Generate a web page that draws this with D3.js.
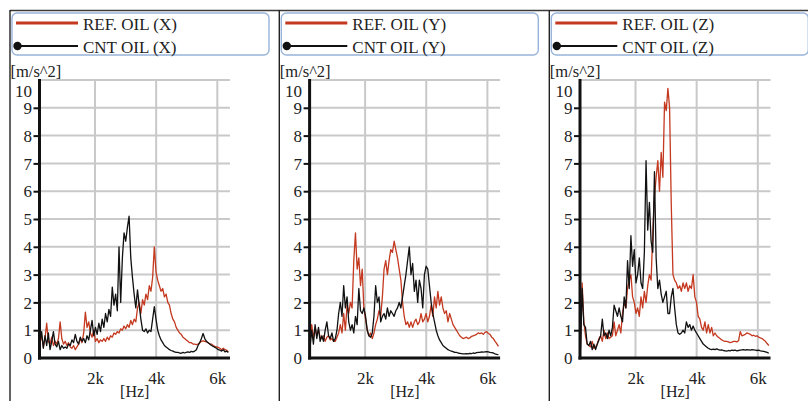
<!DOCTYPE html>
<html>
<head>
<meta charset="utf-8">
<script src="https://cdn.jsdelivr.net/npm/d3@7"></script>
<style>
  html, body { margin: 0; padding: 0; background: #fff; }
  svg { display: block; }
  text { font-family: "Liberation Serif", "Times New Roman", serif; fill: #222; }
</style>
</head>
<body>
<svg id="chart" width="808" height="401"></svg>
<script>
// Vibration spectra, acceleration vs frequency, three axes.
// Spectral bins: 55 Hz apart, starting at 200 Hz.
const binStartHz = 200, binStepHz = 55, binEndHz = 6400;
const freqHz = d3.range(binStartHz, binEndHz, binStepHz);

const axisNames = ["X", "Y", "Z"];
const yTicks = [0, 1, 2, 3, 4, 5, 6, 7, 8, 9, 10];
const xTicksHz = [2000, 4000, 6000];
const xTickLabels = ["2k", "4k", "6k"];
const yUnit = "[m/s^2]";
const xUnit = "[Hz]";

// Reference oil, X axis [m/s^2]
const refX = [
  0.55,0.8,0.4,0.7,1.25,0.6,0.5,0.75,0.45,0.6,
  0.5,0.7,1.3,0.7,0.5,0.6,0.45,0.55,0.4,0.35,
  0.45,0.3,0.4,0.5,0.7,0.55,0.9,1.65,1.1,1.3,
  0.9,0.75,1.0,0.6,0.7,0.55,0.65,0.6,0.7,0.6,
  0.75,0.65,0.8,0.75,0.9,0.85,0.95,0.9,1.05,1.0,
  1.15,1.05,1.2,1.1,1.35,1.2,1.4,1.3,1.8,2.0,
  1.6,2.1,1.9,2.3,2.1,2.6,2.4,2.9,4.0,3.1,
  2.8,2.6,2.4,2.5,2.2,2.3,2.0,1.9,1.6,1.4,
  1.3,1.1,1.0,0.9,0.85,0.75,0.7,0.65,0.6,0.55,
  0.55,0.5,0.5,0.48,0.5,0.55,0.6,0.62,0.6,0.58,
  0.55,0.5,0.5,0.45,0.42,0.4,0.38,0.35,0.3,0.35,
  0.3,0.28,0.22
];
// CNT oil, X axis
const cntX = [
  0.6,0.95,0.35,0.8,0.45,0.9,0.3,0.6,0.95,0.5,
  0.4,0.6,0.3,0.45,0.35,0.4,0.35,0.5,0.45,0.65,
  0.55,0.85,0.6,0.5,0.75,0.6,0.7,0.55,0.8,0.65,
  1.0,1.35,0.8,1.1,0.85,1.25,0.95,1.4,1.1,1.6,
  1.3,1.75,1.5,2.55,1.9,2.3,1.7,4.0,2.0,3.6,
  4.5,4.2,4.7,5.1,3.6,2.9,2.3,1.8,2.45,1.9,
  1.4,1.0,0.95,1.05,0.9,1.0,0.95,1.4,1.85,1.4,
  1.0,0.8,0.65,0.55,0.45,0.4,0.35,0.3,0.27,0.25,
  0.22,0.2,0.2,0.18,0.17,0.2,0.18,0.2,0.22,0.2,
  0.24,0.22,0.25,0.3,0.45,0.55,0.7,0.88,0.7,0.6,
  0.55,0.5,0.45,0.42,0.38,0.35,0.3,0.28,0.25,0.3,
  0.22,0.25,0.2
];
// Reference oil, Y axis
const refY = [
  0.6,1.2,0.7,1.1,0.8,1.0,0.75,0.7,0.8,0.6,
  0.75,0.8,0.65,0.7,0.6,0.6,0.75,0.9,1.2,0.9,
  1.6,1.0,1.9,1.6,2.0,1.8,3.5,4.5,3.2,3.6,
  2.6,3.2,1.8,1.4,1.0,0.8,0.9,0.7,0.9,1.2,
  1.4,1.7,1.5,2.2,3.2,3.5,3.0,3.5,3.9,3.8,
  4.2,3.9,3.6,3.2,2.8,2.0,1.5,1.2,1.3,1.1,
  1.3,1.1,1.3,1.4,1.2,1.3,1.6,1.3,1.4,1.6,
  1.3,1.5,1.9,1.5,2.2,1.8,2.4,1.9,2.2,1.8,
  1.6,1.7,1.3,1.6,1.4,1.2,1.1,1.0,0.9,0.8,
  0.75,0.7,0.72,0.75,0.7,0.72,0.78,0.8,0.82,0.85,
  0.9,0.88,0.9,0.85,0.92,0.95,0.88,0.85,0.75,0.7,
  0.6,0.52,0.42
];
// CNT oil, Y axis
const cntY = [
  0.4,1.0,0.5,1.2,0.7,1.1,0.6,0.8,0.6,1.0,
  1.3,0.8,0.7,0.9,0.6,0.7,1.0,1.6,2.0,1.5,
  2.6,1.8,2.2,1.3,1.0,1.2,0.9,1.5,1.2,2.5,
  1.7,1.6,1.8,1.5,1.0,0.8,0.75,0.9,1.5,2.6,
  2.0,2.2,1.3,1.5,1.6,1.4,1.8,1.5,1.7,1.6,
  1.5,1.7,1.8,2.0,1.8,2.2,2.6,3.0,3.5,4.0,
  3.0,3.4,2.4,2.8,2.0,2.8,2.5,1.8,3.0,3.3,
  3.2,2.6,2.0,1.6,1.3,1.0,0.8,0.65,0.55,0.45,
  0.4,0.35,0.3,0.27,0.25,0.23,0.2,0.2,0.18,0.17,
  0.16,0.15,0.15,0.16,0.15,0.17,0.16,0.18,0.17,0.19,
  0.2,0.2,0.22,0.21,0.22,0.23,0.22,0.2,0.19,0.18,
  0.15,0.13,0.12
];
// Reference oil, Z axis
const refZ = [
  0.4,2.7,1.3,0.8,0.5,0.45,0.4,0.6,0.35,0.4,
  0.5,0.7,0.8,0.6,1.0,0.7,0.9,0.7,0.75,0.8,
  1.3,0.8,1.0,1.2,0.9,1.6,2.0,1.8,2.5,2.8,
  3.0,2.2,2.0,1.6,1.8,1.5,2.2,1.8,2.4,2.0,
  2.6,3.0,2.8,4.5,5.8,6.5,7.1,6.0,7.4,6.5,
  9.2,8.9,9.7,9.0,5.5,3.0,2.8,2.7,2.5,2.6,
  2.4,2.7,2.5,2.7,2.4,2.6,2.5,3.0,2.2,2.0,
  1.5,1.4,1.1,1.0,1.3,0.9,1.2,0.9,1.1,0.8,
  0.9,0.8,0.75,0.7,0.65,0.62,0.6,0.6,0.58,0.55,
  0.57,0.6,0.6,0.58,0.62,0.95,0.8,0.82,0.85,0.9,
  0.88,0.85,0.8,0.82,0.78,0.8,0.75,0.72,0.7,0.65,
  0.6,0.52,0.45
];
// CNT oil, Z axis
const cntZ = [
  0.3,2.5,1.2,1.1,0.5,0.45,0.6,0.3,0.5,0.3,
  0.5,0.65,0.8,1.4,0.8,0.9,0.7,1.0,0.8,1.1,
  1.9,1.7,1.5,1.8,1.5,1.3,2.2,1.8,3.5,2.5,
  4.4,3.3,3.9,2.7,3.0,3.6,2.7,2.5,3.8,7.1,
  4.6,5.6,4.2,3.8,6.7,3.6,2.5,2.8,2.3,2.0,
  2.2,2.4,1.6,1.6,2.2,2.5,1.8,1.2,0.9,0.85,
  0.9,1.0,0.9,1.3,1.1,1.2,1.0,1.15,1.0,0.9,
  0.8,0.7,0.6,0.5,0.45,0.4,0.35,0.32,0.3,0.32,
  0.3,0.33,0.3,0.28,0.29,0.27,0.26,0.25,0.27,0.26,
  0.28,0.27,0.28,0.26,0.27,0.28,0.29,0.3,0.28,0.3,
  0.29,0.28,0.3,0.29,0.28,0.27,0.28,0.26,0.25,0.24,
  0.22,0.2,0.17
];

const refSeries = [refX, refY, refZ];
const cntSeries = [cntX, cntY, cntZ];

const REF_COLOR = "#c4391f";
const CNT_COLOR = "#111111";
const GRID_COLOR = "#c9c9c9";
const LEGEND_STROKE = "#98b4da";
const SERIF = "'Liberation Serif', 'Times New Roman', serif";

const svg = d3.select("#chart");

// Layout of the three side-by-side panels
const panelBorderX = [10, 279.3, 549.3];
const plotLeft = [39.5, 309.6, 580.0];
const plotWidth = 190.5;
const plotTop = 80, plotBottom = 358;

// Outer frame
svg.append("line")
  .attr("x1", 10).attr("x2", 808).attr("y1", 10.5).attr("y2", 10.5)
  .attr("stroke", "#3a3a3a").attr("stroke-width", 1.6);
panelBorderX.forEach(x => {
  svg.append("line")
    .attr("x1", x).attr("x2", x).attr("y1", 10).attr("y2", 401)
    .attr("stroke", "#222").attr("stroke-width", 1.4);
});

axisNames.forEach((name, i) => {
  const g = svg.append("g");
  const left = plotLeft[i], right = left + plotWidth;

  const x = d3.scaleLinear().domain([185, 6415]).range([left, right]);
  const y = d3.scaleLinear().domain([0, 10]).range([plotBottom, plotTop]);

  // Legend box
  const boxLeft = panelBorderX[i] + 2;
  const lg = g.append("g");
  lg.append("rect")
    .attr("x", boxLeft).attr("y", 13).attr("width", 257).attr("height", 42)
    .attr("rx", 5).attr("ry", 5)
    .attr("fill", "#fff").attr("stroke", LEGEND_STROKE).attr("stroke-width", 1.4);
  lg.append("line")
    .attr("x1", boxLeft + 4).attr("x2", boxLeft + 66).attr("y1", 23).attr("y2", 23)
    .attr("stroke", REF_COLOR).attr("stroke-width", 3);
  lg.append("line")
    .attr("x1", boxLeft + 5).attr("x2", boxLeft + 66).attr("y1", 46).attr("y2", 46)
    .attr("stroke", CNT_COLOR).attr("stroke-width", 2);
  lg.append("circle")
    .attr("cx", boxLeft + 5.5).attr("cy", 46).attr("r", 4.2)
    .attr("fill", CNT_COLOR);
  lg.append("text")
    .attr("x", boxLeft + 71).attr("y", 29.5)
    .style("font-family", SERIF).style("font-size", "17px")
    .text(`REF. OIL (${name})`);
  lg.append("text")
    .attr("x", boxLeft + 71).attr("y", 52.5)
    .style("font-family", SERIF).style("font-size", "17px")
    .text(`CNT OIL (${name})`);

  // Grid
  const grid = g.append("g").attr("stroke", GRID_COLOR).attr("stroke-width", 2);
  yTicks.filter(t => t > 0).forEach(t => {
    grid.append("line")
      .attr("x1", left).attr("x2", right)
      .attr("y1", y(t)).attr("y2", y(t));
  });
  xTicksHz.forEach(t => {
    grid.append("line")
      .attr("x1", x(t)).attr("x2", x(t))
      .attr("y1", plotTop).attr("y2", plotBottom);
  });

  // Spectra
  const line = d3.line()
    .x((d, k) => x(freqHz[k]))
    .y(d => y(d));
  g.append("path")
    .datum(refSeries[i])
    .attr("fill", "none").attr("stroke", REF_COLOR)
    .attr("stroke-width", 1.3).attr("stroke-linejoin", "round")
    .attr("d", line);
  g.append("path")
    .datum(cntSeries[i])
    .attr("fill", "none").attr("stroke", CNT_COLOR)
    .attr("stroke-width", 1.3).attr("stroke-linejoin", "round")
    .attr("d", line);

  // Y axis
  const yAxis = d3.axisLeft(y).tickValues(yTicks).tickSize(6).tickPadding(1.5)
    .tickFormat(d3.format("d"));
  const ya = g.append("g").attr("transform", `translate(${left},0)`).call(yAxis);
  ya.select(".domain").remove();
  ya.selectAll(".tick line").attr("stroke", "#111").attr("stroke-width", 2);
  ya.selectAll(".tick text")
    .style("font-family", SERIF)
    .style("font-size", "17px").attr("fill", "#222")
    .attr("dy", d => d === 10 ? "0.95em" : "0.34em");
  ya.selectAll(".tick").filter(d => d === 10 || d === 0).select("line").remove();

  // X axis labels
  const xAxis = d3.axisBottom(x).tickValues(xTicksHz).tickSize(0).tickPadding(14)
    .tickFormat((d, k) => xTickLabels[k]);
  const xa = g.append("g").attr("transform", `translate(0,${plotBottom})`).call(xAxis);
  xa.select(".domain").remove();
  xa.selectAll(".tick text")
    .style("font-family", SERIF)
    .style("font-size", "17px").attr("fill", "#222");

  // Axis lines
  g.append("line")
    .attr("x1", left).attr("x2", left).attr("y1", plotTop - 1).attr("y2", plotBottom + 1.5)
    .attr("stroke", "#111").attr("stroke-width", 3);
  g.append("line")
    .attr("x1", left - 1.5).attr("x2", right).attr("y1", plotBottom).attr("y2", plotBottom)
    .attr("stroke", "#111").attr("stroke-width", 3);

  // Unit labels
  g.append("text")
    .attr("x", panelBorderX[i] + 0.5).attr("y", 76.5)
    .style("font-family", SERIF).style("font-size", "16.5px")
    .text(yUnit);
  g.append("text")
    .attr("x", (left + right) / 2).attr("y", 397)
    .attr("text-anchor", "middle")
    .style("font-family", SERIF).style("font-size", "16px")
    .text(xUnit);
});
</script>
</body>
</html>
